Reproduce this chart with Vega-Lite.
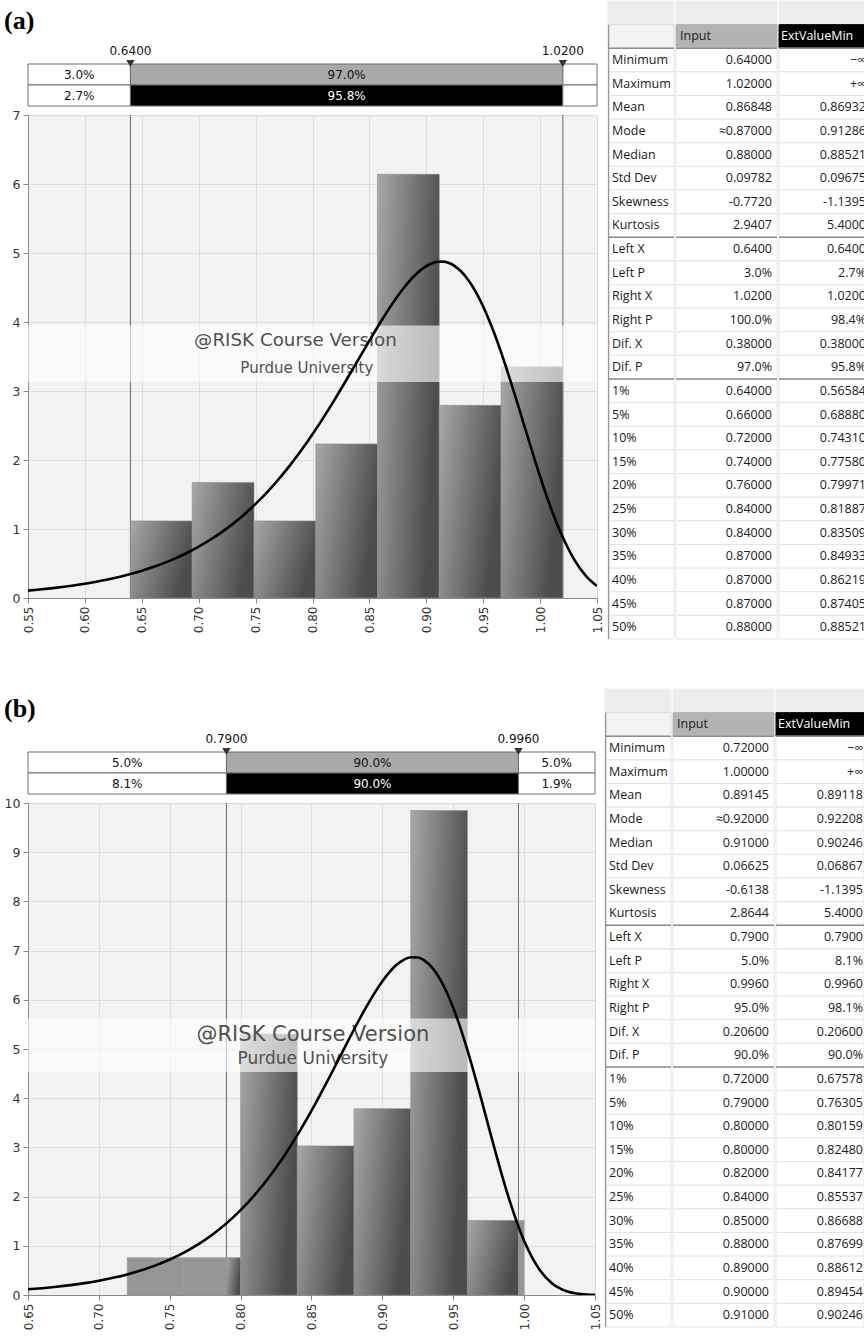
{
  "$schema": "https://vega.github.io/schema/vega-lite/v6.json",
  "padding": {"left": 4, "right": 0, "top": 0, "bottom": 0},
  "autosize": {"type": "pad"},
  "background": "#ffffff",
  "config": {
    "view": {"stroke": null},
    "axis": {"labelFont": "DejaVu Sans", "labelFontSize": 12, "labelColor": "#333333", "domainColor": "#8a8a8a", "tickColor": "#8a8a8a", "gridColor": "#dcdcdc", "title": null, "minExtent": 0},
    "text": {"font": "DejaVu Sans"}
  },
  "datasets": {
    "titleA": [{"label": "(a)"}],
    "titleB": [{"label": "(b)"}],
    "bandsA": [
      {"x0": 0.55, "x1": 0.64, "row": "input", "kind": "out", "label": "3.0%"},
      {"x0": 0.64, "x1": 1.02, "row": "input", "kind": "input", "label": "97.0%"},
      {"x0": 1.02, "x1": 1.05, "row": "input", "kind": "out", "label": ""},
      {"x0": 0.55, "x1": 0.64, "row": "fit", "kind": "out", "label": "2.7%"},
      {"x0": 0.64, "x1": 1.02, "row": "fit", "kind": "fit", "label": "95.8%"},
      {"x0": 1.02, "x1": 1.05, "row": "fit", "kind": "out", "label": ""}
    ],
    "bandsB": [
      {"x0": 0.65, "x1": 0.79, "row": "input", "kind": "out", "label": "5.0%"},
      {"x0": 0.79, "x1": 0.996, "row": "input", "kind": "input", "label": "90.0%"},
      {"x0": 0.996, "x1": 1.05, "row": "input", "kind": "out", "label": "5.0%"},
      {"x0": 0.65, "x1": 0.79, "row": "fit", "kind": "out", "label": "8.1%"},
      {"x0": 0.79, "x1": 0.996, "row": "fit", "kind": "fit", "label": "90.0%"},
      {"x0": 0.996, "x1": 1.05, "row": "fit", "kind": "out", "label": "1.9%"}
    ],
    "threshA": [{"x": 0.64, "label": "0.6400"}, {"x": 1.02, "label": "1.0200"}],
    "threshB": [{"x": 0.79, "label": "0.7900"}, {"x": 0.996, "label": "0.9960"}],
    "histA": [
      {"lo": 0.64, "hi": 0.6943, "d": 1.117, "kind": "in"},
      {"lo": 0.6943, "hi": 0.7486, "d": 1.675, "kind": "in"},
      {"lo": 0.7486, "hi": 0.8029, "d": 1.117, "kind": "in"},
      {"lo": 0.8029, "hi": 0.8571, "d": 2.233, "kind": "in"},
      {"lo": 0.8571, "hi": 0.9114, "d": 6.141, "kind": "in"},
      {"lo": 0.9114, "hi": 0.9657, "d": 2.792, "kind": "in"},
      {"lo": 0.9657, "hi": 1.02, "d": 3.35, "kind": "in"}
    ],
    "histB": [
      {"lo": 0.72, "hi": 0.76, "d": 0.758, "kind": "out"},
      {"lo": 0.76, "hi": 0.79, "d": 0.758, "kind": "out"},
      {"lo": 0.79, "hi": 0.80, "d": 0.758, "kind": "in"},
      {"lo": 0.80, "hi": 0.84, "d": 5.303, "kind": "in"},
      {"lo": 0.84, "hi": 0.88, "d": 3.03, "kind": "in"},
      {"lo": 0.88, "hi": 0.92, "d": 3.788, "kind": "in"},
      {"lo": 0.92, "hi": 0.96, "d": 9.848, "kind": "in"},
      {"lo": 0.96, "hi": 0.996, "d": 1.515, "kind": "in"},
      {"lo": 0.996, "hi": 1.00, "d": 1.515, "kind": "out"}
    ],
    "wmBandA": [{"x0": 0.55, "x1": 1.05, "y0": 3.13, "y1": 3.95}],
    "wmBandB": [{"x0": 0.65, "x1": 1.05, "y0": 4.53, "y1": 5.62}],
    "wmTextA": [
      {"x": 0.785, "y": 3.72, "text": "@RISK Course Version", "line": "main"},
      {"x": 0.795, "y": 3.34, "text": "Purdue University", "line": "sub"}
    ],
    "wmTextB": [
      {"x": 0.851, "y": 5.29, "text": "@RISK Course Version", "line": "main"},
      {"x": 0.851, "y": 4.79, "text": "Purdue University", "line": "sub"}
    ],
    "curveA": [
      {"x": 0.55, "d": 0.1071}, {"x": 0.56, "d": 0.1221}, {"x": 0.57, "d": 0.1393}, {"x": 0.58, "d": 0.1588},
      {"x": 0.59, "d": 0.181}, {"x": 0.60, "d": 0.2062}, {"x": 0.61, "d": 0.2349}, {"x": 0.62, "d": 0.2675},
      {"x": 0.63, "d": 0.3046}, {"x": 0.64, "d": 0.3466}, {"x": 0.65, "d": 0.3943}, {"x": 0.66, "d": 0.4482},
      {"x": 0.67, "d": 0.5092}, {"x": 0.68, "d": 0.5781}, {"x": 0.69, "d": 0.6559}, {"x": 0.70, "d": 0.7433},
      {"x": 0.71, "d": 0.8416}, {"x": 0.72, "d": 0.9515}, {"x": 0.73, "d": 1.0744}, {"x": 0.74, "d": 1.2116},
      {"x": 0.75, "d": 1.3636}, {"x": 0.76, "d": 1.5316}, {"x": 0.77, "d": 1.7163}, {"x": 0.78, "d": 1.9181},
      {"x": 0.79, "d": 2.1371}, {"x": 0.80, "d": 2.3732}, {"x": 0.81, "d": 2.625}, {"x": 0.82, "d": 2.8904},
      {"x": 0.83, "d": 3.1662}, {"x": 0.84, "d": 3.4482}, {"x": 0.85, "d": 3.7302}, {"x": 0.86, "d": 4.0042},
      {"x": 0.87, "d": 4.2613}, {"x": 0.88, "d": 4.4897}, {"x": 0.89, "d": 4.6775}, {"x": 0.895, "d": 4.7517},
      {"x": 0.90, "d": 4.8094}, {"x": 0.905, "d": 4.8506}, {"x": 0.91, "d": 4.873}, {"x": 0.915, "d": 4.8745},
      {"x": 0.92, "d": 4.8541}, {"x": 0.925, "d": 4.81}, {"x": 0.93, "d": 4.7427}, {"x": 0.935, "d": 4.6495},
      {"x": 0.94, "d": 4.5329}, {"x": 0.945, "d": 4.3893}, {"x": 0.95, "d": 4.2241}, {"x": 0.955, "d": 4.0343},
      {"x": 0.96, "d": 3.825}, {"x": 0.965, "d": 3.595}, {"x": 0.97, "d": 3.3511}, {"x": 0.975, "d": 3.093},
      {"x": 0.98, "d": 2.8286}, {"x": 0.985, "d": 2.5574}, {"x": 0.99, "d": 2.2866}, {"x": 0.995, "d": 2.0188},
      {"x": 1.00, "d": 1.761}, {"x": 1.005, "d": 1.5126}, {"x": 1.01, "d": 1.2821}, {"x": 1.015, "d": 1.068},
      {"x": 1.02, "d": 0.8762}, {"x": 1.03, "d": 0.5566}, {"x": 1.04, "d": 0.3253}, {"x": 1.05, "d": 0.1729}
    ],
    "curveB": [
      {"x": 0.65, "d": 0.1153}, {"x": 0.66, "d": 0.1387}, {"x": 0.67, "d": 0.167}, {"x": 0.68, "d": 0.2009},
      {"x": 0.69, "d": 0.2417}, {"x": 0.70, "d": 0.2905}, {"x": 0.71, "d": 0.3489}, {"x": 0.72, "d": 0.419},
      {"x": 0.73, "d": 0.5028}, {"x": 0.74, "d": 0.6024}, {"x": 0.75, "d": 0.721}, {"x": 0.76, "d": 0.8623},
      {"x": 0.77, "d": 1.0292}, {"x": 0.78, "d": 1.2255}, {"x": 0.79, "d": 1.4561}, {"x": 0.80, "d": 1.7243},
      {"x": 0.81, "d": 2.0356}, {"x": 0.82, "d": 2.3922}, {"x": 0.83, "d": 2.7967}, {"x": 0.84, "d": 3.2494},
      {"x": 0.85, "d": 3.7466}, {"x": 0.86, "d": 4.281}, {"x": 0.87, "d": 4.8385}, {"x": 0.88, "d": 5.3964},
      {"x": 0.885, "d": 5.666}, {"x": 0.89, "d": 5.9227}, {"x": 0.895, "d": 6.162}, {"x": 0.90, "d": 6.3778},
      {"x": 0.905, "d": 6.562}, {"x": 0.91, "d": 6.7108}, {"x": 0.915, "d": 6.813}, {"x": 0.92, "d": 6.866},
      {"x": 0.925, "d": 6.861}, {"x": 0.93, "d": 6.7922}, {"x": 0.935, "d": 6.658}, {"x": 0.94, "d": 6.4529},
      {"x": 0.945, "d": 6.18}, {"x": 0.95, "d": 5.8373}, {"x": 0.955, "d": 5.435}, {"x": 0.96, "d": 4.9781},
      {"x": 0.965, "d": 4.481}, {"x": 0.97, "d": 3.955}, {"x": 0.975, "d": 3.417}, {"x": 0.98, "d": 2.8843},
      {"x": 0.985, "d": 2.372}, {"x": 0.99, "d": 1.8965}, {"x": 0.995, "d": 1.4706}, {"x": 1.00, "d": 1.1016},
      {"x": 1.01, "d": 0.5508}, {"x": 1.02, "d": 0.2297}, {"x": 1.03, "d": 0.0771}, {"x": 1.04, "d": 0.0199},
      {"x": 1.05, "d": 0.0037}
    ],
    "tabA": [
      {"row": "strip", "section": "strip", "label": "", "input": "", "fit": ""},
      {"row": "header", "section": "header", "label": "", "input": "Input", "fit": "ExtValueMin"},
      {"row": "Minimum", "section": "body", "label": "Minimum", "input": "0.64000", "fit": "−∞"},
      {"row": "Maximum", "section": "body", "label": "Maximum", "input": "1.02000", "fit": "+∞"},
      {"row": "Mean", "section": "body", "label": "Mean", "input": "0.86848", "fit": "0.86932"},
      {"row": "Mode", "section": "body", "label": "Mode", "input": "≈0.87000", "fit": "0.91286"},
      {"row": "Median", "section": "body", "label": "Median", "input": "0.88000", "fit": "0.88521"},
      {"row": "Std Dev", "section": "body", "label": "Std Dev", "input": "0.09782", "fit": "0.09675"},
      {"row": "Skewness", "section": "body", "label": "Skewness", "input": "-0.7720", "fit": "-1.1395"},
      {"row": "Kurtosis", "section": "body", "label": "Kurtosis", "input": "2.9407", "fit": "5.4000"},
      {"row": "Left X", "section": "body", "label": "Left X", "input": "0.6400", "fit": "0.6400"},
      {"row": "Left P", "section": "body", "label": "Left P", "input": "3.0%", "fit": "2.7%"},
      {"row": "Right X", "section": "body", "label": "Right X", "input": "1.0200", "fit": "1.0200"},
      {"row": "Right P", "section": "body", "label": "Right P", "input": "100.0%", "fit": "98.4%"},
      {"row": "Dif. X", "section": "body", "label": "Dif. X", "input": "0.38000", "fit": "0.38000"},
      {"row": "Dif. P", "section": "body", "label": "Dif. P", "input": "97.0%", "fit": "95.8%"},
      {"row": "1%", "section": "body", "label": "1%", "input": "0.64000", "fit": "0.56584"},
      {"row": "5%", "section": "body", "label": "5%", "input": "0.66000", "fit": "0.68880"},
      {"row": "10%", "section": "body", "label": "10%", "input": "0.72000", "fit": "0.74310"},
      {"row": "15%", "section": "body", "label": "15%", "input": "0.74000", "fit": "0.77580"},
      {"row": "20%", "section": "body", "label": "20%", "input": "0.76000", "fit": "0.79971"},
      {"row": "25%", "section": "body", "label": "25%", "input": "0.84000", "fit": "0.81887"},
      {"row": "30%", "section": "body", "label": "30%", "input": "0.84000", "fit": "0.83509"},
      {"row": "35%", "section": "body", "label": "35%", "input": "0.87000", "fit": "0.84933"},
      {"row": "40%", "section": "body", "label": "40%", "input": "0.87000", "fit": "0.86219"},
      {"row": "45%", "section": "body", "label": "45%", "input": "0.87000", "fit": "0.87405"},
      {"row": "50%", "section": "body", "label": "50%", "input": "0.88000", "fit": "0.88521"}
    ],
    "tabB": [
      {"row": "strip", "section": "strip", "label": "", "input": "", "fit": ""},
      {"row": "header", "section": "header", "label": "", "input": "Input", "fit": "ExtValueMin"},
      {"row": "Minimum", "section": "body", "label": "Minimum", "input": "0.72000", "fit": "−∞"},
      {"row": "Maximum", "section": "body", "label": "Maximum", "input": "1.00000", "fit": "+∞"},
      {"row": "Mean", "section": "body", "label": "Mean", "input": "0.89145", "fit": "0.89118"},
      {"row": "Mode", "section": "body", "label": "Mode", "input": "≈0.92000", "fit": "0.92208"},
      {"row": "Median", "section": "body", "label": "Median", "input": "0.91000", "fit": "0.90246"},
      {"row": "Std Dev", "section": "body", "label": "Std Dev", "input": "0.06625", "fit": "0.06867"},
      {"row": "Skewness", "section": "body", "label": "Skewness", "input": "-0.6138", "fit": "-1.1395"},
      {"row": "Kurtosis", "section": "body", "label": "Kurtosis", "input": "2.8644", "fit": "5.4000"},
      {"row": "Left X", "section": "body", "label": "Left X", "input": "0.7900", "fit": "0.7900"},
      {"row": "Left P", "section": "body", "label": "Left P", "input": "5.0%", "fit": "8.1%"},
      {"row": "Right X", "section": "body", "label": "Right X", "input": "0.9960", "fit": "0.9960"},
      {"row": "Right P", "section": "body", "label": "Right P", "input": "95.0%", "fit": "98.1%"},
      {"row": "Dif. X", "section": "body", "label": "Dif. X", "input": "0.20600", "fit": "0.20600"},
      {"row": "Dif. P", "section": "body", "label": "Dif. P", "input": "90.0%", "fit": "90.0%"},
      {"row": "1%", "section": "body", "label": "1%", "input": "0.72000", "fit": "0.67578"},
      {"row": "5%", "section": "body", "label": "5%", "input": "0.79000", "fit": "0.76305"},
      {"row": "10%", "section": "body", "label": "10%", "input": "0.80000", "fit": "0.80159"},
      {"row": "15%", "section": "body", "label": "15%", "input": "0.80000", "fit": "0.82480"},
      {"row": "20%", "section": "body", "label": "20%", "input": "0.82000", "fit": "0.84177"},
      {"row": "25%", "section": "body", "label": "25%", "input": "0.84000", "fit": "0.85537"},
      {"row": "30%", "section": "body", "label": "30%", "input": "0.85000", "fit": "0.86688"},
      {"row": "35%", "section": "body", "label": "35%", "input": "0.88000", "fit": "0.87699"},
      {"row": "40%", "section": "body", "label": "40%", "input": "0.89000", "fit": "0.88612"},
      {"row": "45%", "section": "body", "label": "45%", "input": "0.90000", "fit": "0.89454"},
      {"row": "50%", "section": "body", "label": "50%", "input": "0.91000", "fit": "0.90246"}
    ]
  },
  "spacing": 48,
  "align": "none",
  "resolve": {"scale": {"fill": "independent", "stroke": "independent", "color": "independent", "size": "independent", "x": "independent", "y": "independent"}},
  "vconcat": [
    {
      "spacing": 4,
      "resolve": {"scale": {"fill": "independent", "stroke": "independent", "color": "independent", "size": "independent", "x": "independent", "y": "independent"}},
      "hconcat": [
        {
          "spacing": 2,
          "resolve": {"scale": {"fill": "independent", "stroke": "independent", "color": "independent", "size": "independent", "x": "independent", "y": "independent"}},
          "vconcat": [
            {
              "width": 569, "height": 105,
              "layer": [
                {
                  "data": {"name": "bandsA"},
                  "mark": {"type": "rect", "stroke": "#6e6e6e", "strokeWidth": 1},
                  "encoding": {
                    "x": {"field": "x0", "type": "quantitative", "scale": {"domain": [0.55, 1.05], "nice": false, "zero": false}, "axis": null},
                    "x2": {"field": "x1"},
                    "y": {"field": "row", "type": "ordinal", "scale": {"domain": ["t1", "t2", "lab", "input", "fit"], "paddingInner": 0, "paddingOuter": 0}, "axis": null},
                    "fill": {"field": "kind", "type": "nominal", "scale": {"domain": ["out", "input", "fit"], "range": ["#ffffff", "#a9a9a9", "#000000"]}, "legend": null}
                  }
                },
                {
                  "data": {"name": "bandsA"},
                  "transform": [{"calculate": "(datum.x0 + datum.x1) / 2", "as": "xm"}],
                  "mark": {"type": "text", "fontSize": 12},
                  "encoding": {
                    "x": {"field": "xm", "type": "quantitative"},
                    "y": {"field": "row", "type": "ordinal"},
                    "text": {"field": "label"},
                    "color": {"field": "kind", "type": "nominal", "scale": {"domain": ["out", "input", "fit"], "range": ["#111111", "#111111", "#ffffff"]}, "legend": null}
                  }
                },
                {
                  "data": {"name": "threshA"},
                  "mark": {"type": "text", "fontSize": 12, "dy": -3, "color": "#111111"},
                  "encoding": {
                    "x": {"field": "x", "type": "quantitative"},
                    "y": {"datum": "lab", "type": "ordinal"},
                    "text": {"field": "label"}
                  }
                },
                {
                  "data": {"name": "threshA"},
                  "mark": {"type": "point", "shape": "triangle-down", "filled": true, "size": 70, "color": "#333333", "opacity": 1, "yOffset": 10},
                  "encoding": {
                    "x": {"field": "x", "type": "quantitative"},
                    "y": {"datum": "lab", "type": "ordinal"}
                  }
                },
                {
                  "data": {"name": "titleA"},
                  "mark": {"type": "text", "font": "Liberation Serif", "fontSize": 26, "fontWeight": "bold", "color": "#000000", "align": "left", "baseline": "middle", "dx": -24, "dy": 9},
                  "encoding": {
                    "x": {"datum": 0.55, "type": "quantitative"},
                    "y": {"datum": "t1", "type": "ordinal"},
                    "text": {"field": "label"}
                  }
                }
              ]
            },
            {
              "width": 569, "height": 483,
              "view": {"fill": "#f2f2f2", "stroke": null},
              "layer": [
                {
                  "data": {"name": "threshA"},
                  "mark": {"type": "rule", "color": "#6a6a6a", "strokeWidth": 1},
                  "encoding": {
                    "x": {"field": "x", "type": "quantitative", "scale": {"domain": [0.55, 1.05], "nice": false, "zero": false},
                      "axis": {"values": [0.55, 0.6, 0.65, 0.7, 0.75, 0.8, 0.85, 0.9, 0.95, 1.0, 1.05], "format": ".2f", "labelAngle": 270, "labelAlign": "right", "labelBaseline": "middle", "labelFlush": false, "labelOverlap": false, "labelPadding": 3, "tickSize": 5, "title": null, "grid": true}}
                  }
                },
                {
                  "data": {"name": "histA"},
                  "mark": {"type": "rect", "stroke": "#8c8c8c", "strokeWidth": 0.6,
                    "fill": {"gradient": "linear", "x1": 0, "y1": 0, "x2": 1, "y2": 0.35, "stops": [{"offset": 0, "color": "#a8a8a8"}, {"offset": 1, "color": "#4c4c4c"}]}},
                  "encoding": {
                    "x": {"field": "lo", "type": "quantitative"},
                    "x2": {"field": "hi"},
                    "y": {"field": "d", "type": "quantitative", "scale": {"domain": [0, 7], "nice": false},
                      "axis": {"values": [0, 1, 2, 3, 4, 5, 6, 7], "format": "d", "tickSize": 5, "labelPadding": 3, "labelFontSize": 12.5, "title": null, "grid": true}},
                    "y2": {"datum": 0}
                  }
                },
                {
                  "data": {"name": "wmBandA"},
                  "mark": {"type": "rect", "color": "#ffffff", "opacity": 0.62},
                  "encoding": {
                    "x": {"field": "x0", "type": "quantitative"},
                    "x2": {"field": "x1"},
                    "y": {"field": "y0", "type": "quantitative"},
                    "y2": {"field": "y1"}
                  }
                },
                {
                  "data": {"name": "wmTextA"},
                  "mark": {"type": "text", "color": "#505050", "baseline": "middle"},
                  "encoding": {
                    "x": {"field": "x", "type": "quantitative"},
                    "y": {"field": "y", "type": "quantitative"},
                    "text": {"field": "text"},
                    "size": {"field": "line", "type": "ordinal", "scale": {"domain": ["main", "sub"], "range": [18.3, 15]}, "legend": null}
                  }
                },
                {
                  "data": {"name": "curveA"},
                  "mark": {"type": "line", "color": "#000000", "strokeWidth": 2.6, "interpolate": "monotone", "clip": true},
                  "encoding": {
                    "x": {"field": "x", "type": "quantitative"},
                    "y": {"field": "d", "type": "quantitative"}
                  }
                }
              ]
            }
          ]
        },
        {
          "spacing": 0,
          "resolve": {"scale": {"fill": "independent", "stroke": "independent", "color": "independent", "size": "independent", "x": "independent", "y": "independent"}},
          "hconcat": [
            {
              "width": 66, "height": 638,
              "data": {"name": "tabA"},
              "layer": [
                {
                  "mark": {"type": "rect", "strokeWidth": 1},
                  "encoding": {
                    "y": {"field": "row", "type": "ordinal", "axis": null, "scale": {"domain": ["strip", "header", "Minimum", "Maximum", "Mean", "Mode", "Median", "Std Dev", "Skewness", "Kurtosis", "Left X", "Left P", "Right X", "Right P", "Dif. X", "Dif. P", "1%", "5%", "10%", "15%", "20%", "25%", "30%", "35%", "40%", "45%", "50%"], "paddingInner": 0, "paddingOuter": 0}},
                    "fill": {"field": "section", "type": "nominal", "scale": {"domain": ["strip", "header", "body"], "range": ["#eeeeee", "#f3f3f3", "#ffffff"]}, "legend": null},
                    "stroke": {"field": "section", "type": "nominal", "scale": {"domain": ["strip", "header", "body"], "range": ["#eeeeee", "#dddddd", "#e4e4e4"]}, "legend": null}
                  }
                },
                {
                  "transform": [{"filter": "datum.section != 'strip'"}],
                  "mark": {"type": "rect", "color": "#999999"},
                  "encoding": {
                    "y": {"field": "row", "type": "ordinal"},
                    "x": {"datum": 0, "type": "quantitative", "scale": {"domain": [0, 1]}, "axis": null},
                    "x2": {"datum": 0.02}
                  }
                },
                {
                  "transform": [{"filter": "datum.section == 'body'"}],
                  "mark": {"type": "text", "align": "left", "dx": 4, "font": "Open Sans", "fontSize": 12.5, "color": "#1a1a1a"},
                  "encoding": {
                    "y": {"field": "row", "type": "ordinal"},
                    "x": {"datum": 0, "type": "quantitative"},
                    "text": {"field": "label"}
                  }
                },
                {
                  "transform": [{"filter": {"field": "row", "oneOf": ["header", "Kurtosis", "Dif. P"]}}],
                  "mark": {"type": "rule", "color": "#8c8c8c", "strokeWidth": 1.5},
                  "encoding": {"y": {"field": "row", "type": "ordinal", "bandPosition": 1}}
                }
              ]
            },
            {
              "width": 101, "height": 638,
              "data": {"name": "tabA"},
              "layer": [
                {
                  "mark": {"type": "rect", "strokeWidth": 1},
                  "encoding": {
                    "y": {"field": "row", "type": "ordinal", "axis": null, "scale": {"domain": ["strip", "header", "Minimum", "Maximum", "Mean", "Mode", "Median", "Std Dev", "Skewness", "Kurtosis", "Left X", "Left P", "Right X", "Right P", "Dif. X", "Dif. P", "1%", "5%", "10%", "15%", "20%", "25%", "30%", "35%", "40%", "45%", "50%"], "paddingInner": 0, "paddingOuter": 0}},
                    "fill": {"field": "section", "type": "nominal", "scale": {"domain": ["strip", "header", "body"], "range": ["#eeeeee", "#b3b3b3", "#ffffff"]}, "legend": null},
                    "stroke": {"field": "section", "type": "nominal", "scale": {"domain": ["strip", "header", "body"], "range": ["#eeeeee", "#b3b3b3", "#e4e4e4"]}, "legend": null}
                  }
                },
                {
                  "transform": [{"filter": "datum.section == 'header'"}],
                  "mark": {"type": "text", "align": "left", "dx": 4, "font": "Open Sans", "fontSize": 12.5, "color": "#1a1a1a"},
                  "encoding": {
                    "y": {"field": "row", "type": "ordinal"},
                    "x": {"datum": 0, "type": "quantitative", "scale": {"domain": [0, 1]}, "axis": null},
                    "text": {"field": "input"}
                  }
                },
                {
                  "transform": [{"filter": "datum.section == 'body'"}],
                  "mark": {"type": "text", "align": "right", "dx": -5, "font": "Open Sans", "fontSize": 12.5, "color": "#1a1a1a"},
                  "encoding": {
                    "y": {"field": "row", "type": "ordinal"},
                    "x": {"datum": 1, "type": "quantitative"},
                    "text": {"field": "input"}
                  }
                },
                {
                  "transform": [{"filter": {"field": "row", "oneOf": ["header", "Kurtosis", "Dif. P"]}}],
                  "mark": {"type": "rule", "color": "#8c8c8c", "strokeWidth": 1.5},
                  "encoding": {"y": {"field": "row", "type": "ordinal", "bandPosition": 1}}
                }
              ]
            },
            {
              "width": 88, "height": 638,
              "data": {"name": "tabA"},
              "layer": [
                {
                  "mark": {"type": "rect", "strokeWidth": 1},
                  "encoding": {
                    "y": {"field": "row", "type": "ordinal", "axis": null, "scale": {"domain": ["strip", "header", "Minimum", "Maximum", "Mean", "Mode", "Median", "Std Dev", "Skewness", "Kurtosis", "Left X", "Left P", "Right X", "Right P", "Dif. X", "Dif. P", "1%", "5%", "10%", "15%", "20%", "25%", "30%", "35%", "40%", "45%", "50%"], "paddingInner": 0, "paddingOuter": 0}},
                    "fill": {"field": "section", "type": "nominal", "scale": {"domain": ["strip", "header", "body"], "range": ["#eeeeee", "#000000", "#ffffff"]}, "legend": null},
                    "stroke": {"field": "section", "type": "nominal", "scale": {"domain": ["strip", "header", "body"], "range": ["#eeeeee", "#000000", "#e4e4e4"]}, "legend": null}
                  }
                },
                {
                  "transform": [{"filter": "datum.section == 'header'"}],
                  "mark": {"type": "text", "align": "left", "dx": 2, "font": "Open Sans", "fontSize": 12.5, "color": "#ffffff"},
                  "encoding": {
                    "y": {"field": "row", "type": "ordinal"},
                    "x": {"datum": 0, "type": "quantitative", "scale": {"domain": [0, 1]}, "axis": null},
                    "text": {"field": "fit"}
                  }
                },
                {
                  "transform": [{"filter": "datum.section == 'body'"}],
                  "mark": {"type": "text", "align": "right", "dx": -1, "font": "Open Sans", "fontSize": 12.5, "color": "#1a1a1a"},
                  "encoding": {
                    "y": {"field": "row", "type": "ordinal"},
                    "x": {"datum": 1, "type": "quantitative"},
                    "text": {"field": "fit"}
                  }
                },
                {
                  "transform": [{"filter": {"field": "row", "oneOf": ["header", "Kurtosis", "Dif. P"]}}],
                  "mark": {"type": "rule", "color": "#8c8c8c", "strokeWidth": 1.5},
                  "encoding": {"y": {"field": "row", "type": "ordinal", "bandPosition": 1}}
                }
              ]
            }
          ]
        }
      ]
    },
    {
      "spacing": 3,
      "resolve": {"scale": {"fill": "independent", "stroke": "independent", "color": "independent", "size": "independent", "x": "independent", "y": "independent"}},
      "hconcat": [
        {
          "spacing": 2,
          "resolve": {"scale": {"fill": "independent", "stroke": "independent", "color": "independent", "size": "independent", "x": "independent", "y": "independent"}},
          "vconcat": [
            {
              "width": 567, "height": 105,
              "layer": [
                {
                  "data": {"name": "bandsB"},
                  "mark": {"type": "rect", "stroke": "#6e6e6e", "strokeWidth": 1},
                  "encoding": {
                    "x": {"field": "x0", "type": "quantitative", "scale": {"domain": [0.65, 1.05], "nice": false, "zero": false}, "axis": null},
                    "x2": {"field": "x1"},
                    "y": {"field": "row", "type": "ordinal", "scale": {"domain": ["t1", "t2", "lab", "input", "fit"], "paddingInner": 0, "paddingOuter": 0}, "axis": null},
                    "fill": {"field": "kind", "type": "nominal", "scale": {"domain": ["out", "input", "fit"], "range": ["#ffffff", "#a9a9a9", "#000000"]}, "legend": null}
                  }
                },
                {
                  "data": {"name": "bandsB"},
                  "transform": [{"calculate": "(datum.x0 + datum.x1) / 2", "as": "xm"}],
                  "mark": {"type": "text", "fontSize": 12},
                  "encoding": {
                    "x": {"field": "xm", "type": "quantitative"},
                    "y": {"field": "row", "type": "ordinal"},
                    "text": {"field": "label"},
                    "color": {"field": "kind", "type": "nominal", "scale": {"domain": ["out", "input", "fit"], "range": ["#111111", "#111111", "#ffffff"]}, "legend": null}
                  }
                },
                {
                  "data": {"name": "threshB"},
                  "mark": {"type": "text", "fontSize": 12, "dy": -3, "color": "#111111"},
                  "encoding": {
                    "x": {"field": "x", "type": "quantitative"},
                    "y": {"datum": "lab", "type": "ordinal"},
                    "text": {"field": "label"}
                  }
                },
                {
                  "data": {"name": "threshB"},
                  "mark": {"type": "point", "shape": "triangle-down", "filled": true, "size": 70, "color": "#333333", "opacity": 1, "yOffset": 10},
                  "encoding": {
                    "x": {"field": "x", "type": "quantitative"},
                    "y": {"datum": "lab", "type": "ordinal"}
                  }
                },
                {
                  "data": {"name": "titleB"},
                  "mark": {"type": "text", "font": "Liberation Serif", "fontSize": 26, "fontWeight": "bold", "color": "#000000", "align": "left", "baseline": "middle", "dx": -24, "dy": 9},
                  "encoding": {
                    "x": {"datum": 0.65, "type": "quantitative"},
                    "y": {"datum": "t1", "type": "ordinal"},
                    "text": {"field": "label"}
                  }
                }
              ]
            },
            {
              "width": 567, "height": 492,
              "view": {"fill": "#f2f2f2", "stroke": null},
              "layer": [
                {
                  "data": {"name": "threshB"},
                  "mark": {"type": "rule", "color": "#6a6a6a", "strokeWidth": 1},
                  "encoding": {
                    "x": {"field": "x", "type": "quantitative", "scale": {"domain": [0.65, 1.05], "nice": false, "zero": false},
                      "axis": {"values": [0.65, 0.7, 0.75, 0.8, 0.85, 0.9, 0.95, 1.0, 1.05], "format": ".2f", "labelAngle": 270, "labelAlign": "right", "labelBaseline": "middle", "labelFlush": false, "labelOverlap": false, "labelPadding": 3, "tickSize": 5, "title": null, "grid": true}}
                  }
                },
                {
                  "data": {"name": "histB"},
                  "transform": [{"filter": "datum.kind == 'in'"}],
                  "mark": {"type": "rect", "stroke": "#8c8c8c", "strokeWidth": 0.6,
                    "fill": {"gradient": "linear", "x1": 0, "y1": 0, "x2": 1, "y2": 0.35, "stops": [{"offset": 0, "color": "#a8a8a8"}, {"offset": 1, "color": "#4c4c4c"}]}},
                  "encoding": {
                    "x": {"field": "lo", "type": "quantitative"},
                    "x2": {"field": "hi"},
                    "y": {"field": "d", "type": "quantitative", "scale": {"domain": [0, 10], "nice": false},
                      "axis": {"values": [0, 1, 2, 3, 4, 5, 6, 7, 8, 9, 10], "format": "d", "tickSize": 5, "labelPadding": 3, "labelFontSize": 12.5, "title": null, "grid": true}},
                    "y2": {"datum": 0}
                  }
                },
                {
                  "data": {"name": "histB"},
                  "transform": [{"filter": "datum.kind == 'out'"}],
                  "mark": {"type": "rect", "fill": "#969696", "stroke": "#9a9a9a", "strokeWidth": 0.6},
                  "encoding": {
                    "x": {"field": "lo", "type": "quantitative"},
                    "x2": {"field": "hi"},
                    "y": {"field": "d", "type": "quantitative"},
                    "y2": {"datum": 0}
                  }
                },
                {
                  "data": {"name": "wmBandB"},
                  "mark": {"type": "rect", "color": "#ffffff", "opacity": 0.62},
                  "encoding": {
                    "x": {"field": "x0", "type": "quantitative"},
                    "x2": {"field": "x1"},
                    "y": {"field": "y0", "type": "quantitative"},
                    "y2": {"field": "y1"}
                  }
                },
                {
                  "data": {"name": "wmTextB"},
                  "mark": {"type": "text", "color": "#505050", "baseline": "middle"},
                  "encoding": {
                    "x": {"field": "x", "type": "quantitative"},
                    "y": {"field": "y", "type": "quantitative"},
                    "text": {"field": "text"},
                    "size": {"field": "line", "type": "ordinal", "scale": {"domain": ["main", "sub"], "range": [21, 17]}, "legend": null}
                  }
                },
                {
                  "data": {"name": "curveB"},
                  "mark": {"type": "line", "color": "#000000", "strokeWidth": 2.6, "interpolate": "monotone", "clip": true},
                  "encoding": {
                    "x": {"field": "x", "type": "quantitative"},
                    "y": {"field": "d", "type": "quantitative"}
                  }
                }
              ]
            }
          ]
        },
        {
          "spacing": 0,
          "resolve": {"scale": {"fill": "independent", "stroke": "independent", "color": "independent", "size": "independent", "x": "independent", "y": "independent"}},
          "hconcat": [
            {
              "width": 66, "height": 638,
              "data": {"name": "tabB"},
              "layer": [
                {
                  "mark": {"type": "rect", "strokeWidth": 1},
                  "encoding": {
                    "y": {"field": "row", "type": "ordinal", "axis": null, "scale": {"domain": ["strip", "header", "Minimum", "Maximum", "Mean", "Mode", "Median", "Std Dev", "Skewness", "Kurtosis", "Left X", "Left P", "Right X", "Right P", "Dif. X", "Dif. P", "1%", "5%", "10%", "15%", "20%", "25%", "30%", "35%", "40%", "45%", "50%"], "paddingInner": 0, "paddingOuter": 0}},
                    "fill": {"field": "section", "type": "nominal", "scale": {"domain": ["strip", "header", "body"], "range": ["#eeeeee", "#f3f3f3", "#ffffff"]}, "legend": null},
                    "stroke": {"field": "section", "type": "nominal", "scale": {"domain": ["strip", "header", "body"], "range": ["#eeeeee", "#dddddd", "#e4e4e4"]}, "legend": null}
                  }
                },
                {
                  "transform": [{"filter": "datum.section != 'strip'"}],
                  "mark": {"type": "rect", "color": "#999999"},
                  "encoding": {
                    "y": {"field": "row", "type": "ordinal"},
                    "x": {"datum": 0, "type": "quantitative", "scale": {"domain": [0, 1]}, "axis": null},
                    "x2": {"datum": 0.02}
                  }
                },
                {
                  "transform": [{"filter": "datum.section == 'body'"}],
                  "mark": {"type": "text", "align": "left", "dx": 4, "font": "Open Sans", "fontSize": 12.5, "color": "#1a1a1a"},
                  "encoding": {
                    "y": {"field": "row", "type": "ordinal"},
                    "x": {"datum": 0, "type": "quantitative"},
                    "text": {"field": "label"}
                  }
                },
                {
                  "transform": [{"filter": {"field": "row", "oneOf": ["header", "Kurtosis", "Dif. P"]}}],
                  "mark": {"type": "rule", "color": "#8c8c8c", "strokeWidth": 1.5},
                  "encoding": {"y": {"field": "row", "type": "ordinal", "bandPosition": 1}}
                }
              ]
            },
            {
              "width": 101, "height": 638,
              "data": {"name": "tabB"},
              "layer": [
                {
                  "mark": {"type": "rect", "strokeWidth": 1},
                  "encoding": {
                    "y": {"field": "row", "type": "ordinal", "axis": null, "scale": {"domain": ["strip", "header", "Minimum", "Maximum", "Mean", "Mode", "Median", "Std Dev", "Skewness", "Kurtosis", "Left X", "Left P", "Right X", "Right P", "Dif. X", "Dif. P", "1%", "5%", "10%", "15%", "20%", "25%", "30%", "35%", "40%", "45%", "50%"], "paddingInner": 0, "paddingOuter": 0}},
                    "fill": {"field": "section", "type": "nominal", "scale": {"domain": ["strip", "header", "body"], "range": ["#eeeeee", "#b3b3b3", "#ffffff"]}, "legend": null},
                    "stroke": {"field": "section", "type": "nominal", "scale": {"domain": ["strip", "header", "body"], "range": ["#eeeeee", "#b3b3b3", "#e4e4e4"]}, "legend": null}
                  }
                },
                {
                  "transform": [{"filter": "datum.section == 'header'"}],
                  "mark": {"type": "text", "align": "left", "dx": 4, "font": "Open Sans", "fontSize": 12.5, "color": "#1a1a1a"},
                  "encoding": {
                    "y": {"field": "row", "type": "ordinal"},
                    "x": {"datum": 0, "type": "quantitative", "scale": {"domain": [0, 1]}, "axis": null},
                    "text": {"field": "input"}
                  }
                },
                {
                  "transform": [{"filter": "datum.section == 'body'"}],
                  "mark": {"type": "text", "align": "right", "dx": -5, "font": "Open Sans", "fontSize": 12.5, "color": "#1a1a1a"},
                  "encoding": {
                    "y": {"field": "row", "type": "ordinal"},
                    "x": {"datum": 1, "type": "quantitative"},
                    "text": {"field": "input"}
                  }
                },
                {
                  "transform": [{"filter": {"field": "row", "oneOf": ["header", "Kurtosis", "Dif. P"]}}],
                  "mark": {"type": "rule", "color": "#8c8c8c", "strokeWidth": 1.5},
                  "encoding": {"y": {"field": "row", "type": "ordinal", "bandPosition": 1}}
                }
              ]
            },
            {
              "width": 88, "height": 638,
              "data": {"name": "tabB"},
              "layer": [
                {
                  "mark": {"type": "rect", "strokeWidth": 1},
                  "encoding": {
                    "y": {"field": "row", "type": "ordinal", "axis": null, "scale": {"domain": ["strip", "header", "Minimum", "Maximum", "Mean", "Mode", "Median", "Std Dev", "Skewness", "Kurtosis", "Left X", "Left P", "Right X", "Right P", "Dif. X", "Dif. P", "1%", "5%", "10%", "15%", "20%", "25%", "30%", "35%", "40%", "45%", "50%"], "paddingInner": 0, "paddingOuter": 0}},
                    "fill": {"field": "section", "type": "nominal", "scale": {"domain": ["strip", "header", "body"], "range": ["#eeeeee", "#000000", "#ffffff"]}, "legend": null},
                    "stroke": {"field": "section", "type": "nominal", "scale": {"domain": ["strip", "header", "body"], "range": ["#eeeeee", "#000000", "#e4e4e4"]}, "legend": null}
                  }
                },
                {
                  "transform": [{"filter": "datum.section == 'header'"}],
                  "mark": {"type": "text", "align": "left", "dx": 2, "font": "Open Sans", "fontSize": 12.5, "color": "#ffffff"},
                  "encoding": {
                    "y": {"field": "row", "type": "ordinal"},
                    "x": {"datum": 0, "type": "quantitative", "scale": {"domain": [0, 1]}, "axis": null},
                    "text": {"field": "fit"}
                  }
                },
                {
                  "transform": [{"filter": "datum.section == 'body'"}],
                  "mark": {"type": "text", "align": "right", "dx": -1, "font": "Open Sans", "fontSize": 12.5, "color": "#1a1a1a"},
                  "encoding": {
                    "y": {"field": "row", "type": "ordinal"},
                    "x": {"datum": 1, "type": "quantitative"},
                    "text": {"field": "fit"}
                  }
                },
                {
                  "transform": [{"filter": {"field": "row", "oneOf": ["header", "Kurtosis", "Dif. P"]}}],
                  "mark": {"type": "rule", "color": "#8c8c8c", "strokeWidth": 1.5},
                  "encoding": {"y": {"field": "row", "type": "ordinal", "bandPosition": 1}}
                }
              ]
            }
          ]
        }
      ]
    }
  ]
}
